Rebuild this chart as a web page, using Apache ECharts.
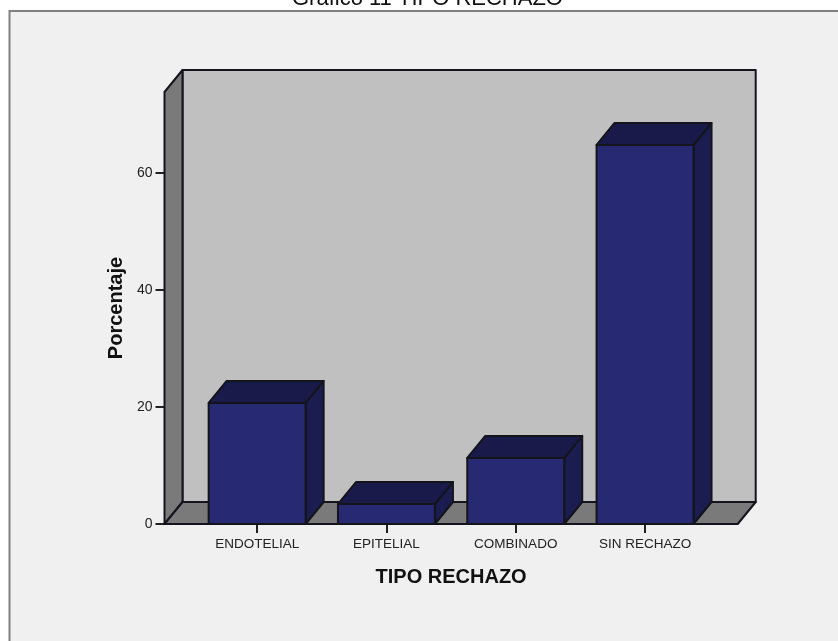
<!DOCTYPE html>
<html>
<head>
<meta charset="utf-8">
<style>html,body{margin:0;padding:0;background:#fff}#chart{width:838px;height:641px}</style>
<script src="https://cdn.jsdelivr.net/npm/echarts@6/dist/echarts.min.js"></script>
</head>
<body>
<div id="chart"></div>
<script>
const categories = ['ENDOTELIAL', 'EPITELIAL', 'COMBINADO', 'SIN RECHAZO'];
const percentages = [20.7, 3.4, 11.3, 64.8];
const yTicks = [0, 20, 40, 60];
const yMax = 73.85;

const FONT = '"Liberation Sans", Arial, sans-serif';
const EDGE = '#14141c';
const DEPTH_X = 18, DEPTH_Y = 22;   // oblique offset of the 3D projection
const SIDE_PAD = 28;                // floor overhang past the outer category bands
const BAR_SHARE = 0.75;             // bar width as a share of its band

const poly = (points, fill) => ({
  type: 'polygon',
  shape: { points },
  style: { fill, stroke: EDGE, lineWidth: 2, lineJoin: 'round' }
});

// Back wall, left wall and floor of the 3D box
function renderRoom(params, api) {
  const band = api.size([1, 0])[0];
  const x0 = api.coord([0, 0])[0] - band / 2 - SIDE_PAD;
  const x1 = api.coord([categories.length - 1, 0])[0] + band / 2 + SIDE_PAD;
  const yb = api.coord([0, 0])[1];
  const yt = api.coord([0, yMax])[1];
  const d = DEPTH_X, h = DEPTH_Y;
  return {
    type: 'group',
    children: [
      poly([[x0 + d, yt - h], [x1 + d, yt - h], [x1 + d, yb - h], [x0 + d, yb - h]], '#c0c0c0'),
      poly([[x0, yt], [x0 + d, yt - h], [x0 + d, yb - h], [x0, yb]], '#7a7a7a'),
      poly([[x0, yb], [x1, yb], [x1 + d, yb - h], [x0 + d, yb - h]], '#7a7a7a')
    ]
  };
}

// One extruded bar: front, top and right faces
function renderBar(params, api) {
  const cat = api.value(0), val = api.value(1);
  const w = api.size([1, 0])[0] * BAR_SHARE;
  const [cx, top] = api.coord([cat, val]);
  const bottom = api.coord([cat, 0])[1];
  const l = cx - w / 2, r = cx + w / 2;
  const d = DEPTH_X, h = DEPTH_Y;
  return {
    type: 'group',
    children: [
      poly([[r, top], [r + d, top - h], [r + d, bottom - h], [r, bottom]], '#1b1c50'),
      poly([[l, top], [l + d, top - h], [r + d, top - h], [r, top]], '#191a4a'),
      poly([[l, top], [r, top], [r, bottom], [l, bottom]], '#272a72')
    ]
  };
}

const chart = echarts.init(document.getElementById('chart'), null, { renderer: 'canvas' });
chart.setOption({
  backgroundColor: '#ffffff',
  animation: false,
  title: {
    text: 'Gráfico 11 TIPO RECHAZO',
    left: 287,
    top: -17,
    textStyle: { fontFamily: FONT, fontSize: 22, fontWeight: 'normal', color: '#111' }
  },
  graphic: [{
    type: 'rect',
    z: -10,
    silent: true,
    shape: { x: 9.5, y: 11, width: 900, height: 700 },
    style: { fill: '#f0f0f0', stroke: '#808080', lineWidth: 2 }
  }],
  grid: { left: 192.5, top: 92, width: 517.2, height: 432 },
  xAxis: {
    type: 'category',
    data: categories,
    axisLine: { show: false },
    axisTick: { show: true, alignWithLabel: true, length: 9, lineStyle: { color: '#222', width: 2 } },
    axisLabel: { fontFamily: FONT, fontSize: 13.5, color: '#222', margin: 13 },
    name: 'TIPO RECHAZO',
    nameLocation: 'middle',
    nameGap: 43,
    nameTextStyle: { fontFamily: FONT, fontSize: 20, fontWeight: 'bold', color: '#111' }
  },
  yAxis: {
    type: 'value',
    min: 0,
    max: yMax,
    offset: SIDE_PAD,
    splitLine: { show: false },
    axisLine: { show: false },
    axisTick: { show: true, length: 9, customValues: yTicks, lineStyle: { color: '#222', width: 2 } },
    axisLabel: { fontFamily: FONT, fontSize: 14, color: '#222', margin: 12, customValues: yTicks },
    name: 'Porcentaje',
    nameLocation: 'middle',
    nameGap: 38,
    nameRotate: 90,
    nameTextStyle: { fontFamily: FONT, fontSize: 20, fontWeight: 'bold', color: '#111' }
  },
  series: [
    { type: 'custom', silent: true, clip: false, z: 1, renderItem: renderRoom, data: [[0, 0]], encode: { x: 0, y: 1 } },
    { type: 'custom', clip: false, z: 2, renderItem: renderBar, data: percentages.map((v, i) => [i, v]), encode: { x: 0, y: 1 } }
  ]
});
</script>
</body>
</html>
